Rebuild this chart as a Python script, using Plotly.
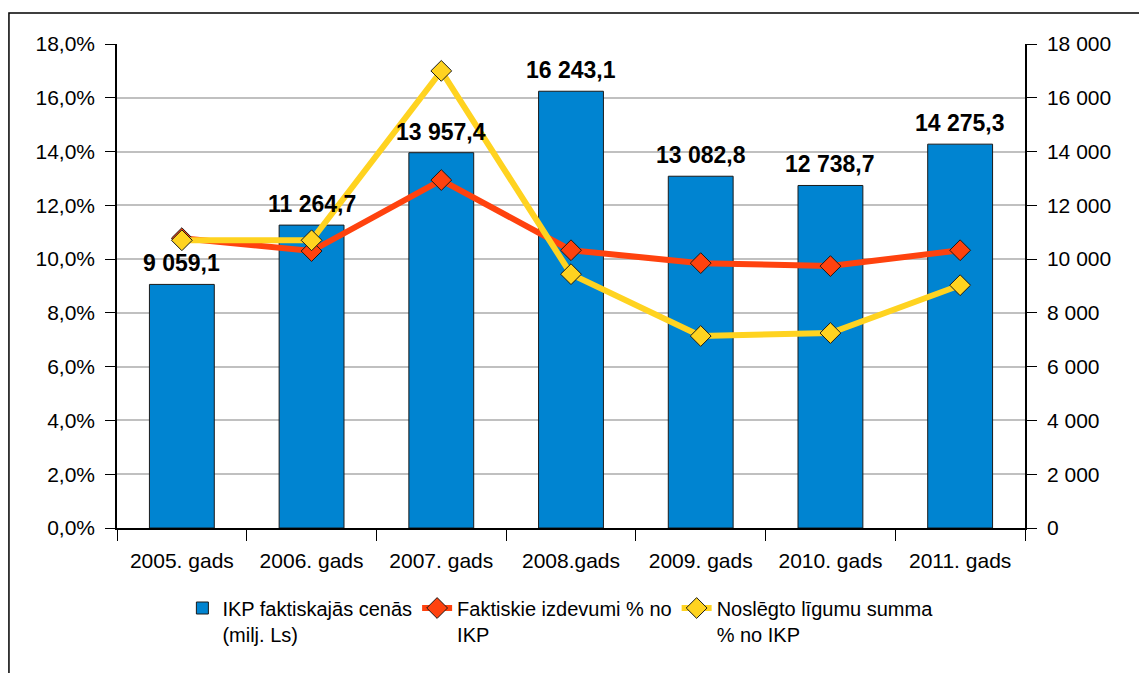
import plotly.graph_objects as go

categories = ["2005. gads", "2006. gads", "2007. gads", "2008.gads", "2009. gads", "2010. gads", "2011. gads"]
ikp = [9059.1, 11264.7, 13957.4, 16243.1, 13082.8, 12738.7, 14275.3]
ikp_labels = ["9 059,1", "11 264,7", "13 957,4", "16 243,1", "13 082,8", "12 738,7", "14 275,3"]
faktiskie = [0.1078, 0.1030, 0.1294, 0.1033, 0.0985, 0.0974, 0.1033]
noslegto = [0.1070, 0.1070, 0.1700, 0.0944, 0.0714, 0.0725, 0.0903]

FONT = "Liberation Sans, Arial, sans-serif"

fig = go.Figure()
fig.add_trace(go.Bar(
    x=categories, y=ikp, name="IKP faktiskajās cenās<br>(milj. Ls)",
    marker=dict(color="#0084D1", line=dict(color="#1a1a1a", width=1)),
    yaxis="y", width=0.5,
))
fig.add_trace(go.Scatter(
    x=categories, y=faktiskie, name="Faktiskie izdevumi % no<br>IKP",
    mode="lines+markers", yaxis="y2",
    line=dict(color="#FF420E", width=6),
    marker=dict(symbol="diamond", size=16, color="#FF420E", line=dict(color="#1a1a1a", width=1)),
    cliponaxis=False,
))
fig.add_trace(go.Scatter(
    x=categories, y=noslegto, name="Noslēgto līgumu summa<br>% no IKP",
    mode="lines+markers", yaxis="y2",
    line=dict(color="#FFD320", width=6),
    marker=dict(symbol="diamond", size=16, color="#FFD320", line=dict(color="#1a1a1a", width=1)),
    cliponaxis=False,
))

annotations = [
    dict(x=c, y=v, xref="x", yref="y", text=f"<b>{t}</b>", showarrow=False,
         yanchor="bottom", yshift=6, font=dict(family=FONT, size=23, color="black"))
    for c, v, t in zip(categories, ikp, ikp_labels)
]

fig.update_layout(
    width=1147, height=673,
    margin=dict(l=109, r=130, t=36, b=153),
    paper_bgcolor="white", plot_bgcolor="white",
    font=dict(family=FONT, size=21, color="black"),
    separators=", ",
    showlegend=True,
    legend=dict(orientation="h", x=0.072, xanchor="left", y=-0.125, yanchor="top",
                font=dict(family=FONT, size=20), traceorder="normal", valign="top",
                itemwidth=30),
    xaxis=dict(showline=True, linecolor="black", linewidth=1.5, ticks="outside",
               tickson="boundaries", ticklen=11, tickcolor="black",
               tickfont=dict(size=21), showgrid=False, ticklabelstandoff=13),
    yaxis=dict(side="right", range=[0, 18000], dtick=2000, tickformat=",d",
               showline=True, linecolor="black", linewidth=1.5, ticks="outside", ticklen=10,
               tickcolor="black", showgrid=True, gridcolor="#C0C0C0", gridwidth=1.5,
               zeroline=False, tickfont=dict(size=21), ticklabelstandoff=6),
    yaxis2=dict(side="left", overlaying="y", range=[0, 0.18], dtick=0.02, tickformat=".1%",
                showline=True, linecolor="black", linewidth=1.5, ticks="outside", ticklen=10,
                tickcolor="black", showgrid=False, zeroline=False, tickfont=dict(size=21),
                ticklabelstandoff=6),
    annotations=annotations,
    shapes=[dict(type="rect", xref="paper", yref="paper", x0=-0.119, x1=1.3, y0=-0.5, y1=1.064,
                 line=dict(color="black", width=1.5), fillcolor="rgba(0,0,0,0)", layer="below")],
)

fig.write_html("out.html")
